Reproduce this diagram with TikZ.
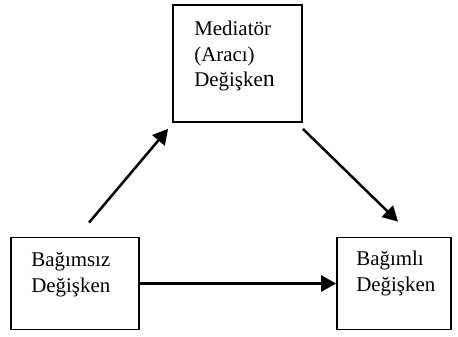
\documentclass[tikz,border=0pt]{standalone}
\usepackage{fontspec}
\setmainfont{Liberation Serif}
\usetikzlibrary{arrows.meta}
\begin{document}
\begin{tikzpicture}[x=1bp,y=-1bp,
 box/.style={draw,line width=1.8bp,inner sep=0pt},
 lbl/.style={anchor=base west,text width=100bp,align=left,inner sep=0pt,font=\fontsize{21}{26}\selectfont},
 arr/.style={line width=2.5bp,-{Triangle[length=15bp,width=16bp]}}]
\useasboundingbox (0,0) rectangle (458,336);
\node[box,minimum width=129bp,minimum height=117bp] (med) at (237.5,63.5) {};
\node[box,minimum width=128bp,minimum height=92bp] (bag) at (75,283.5) {};
\node[box,minimum width=114bp,minimum height=92bp] (dep) at (394,283.5) {};
\path ([shift={(22,31)}]med.north west) node[lbl] (medtxt) {Mediatör\\(Aracı)\\Değişke{\fontsize{24}{26}\selectfont n}}
 ([shift={(21,30)}]bag.north west) node[lbl] (bagtxt) {Bağımsız\\Değişken}
 ([shift={(20,29)}]dep.north west) node[lbl] (deptxt) {Bağımlı\\Değişken};
\draw[arr] ([shift={(14,-14)}]bag.north) -- ([shift={(-4,6)}]med.south west);
\draw[arr] ([shift={(0,6)}]med.south east) -- ([shift={(4,-15)}]dep.north);
\draw[arr] (bag.east) -- (dep.west);
\end{tikzpicture}
\end{document}
